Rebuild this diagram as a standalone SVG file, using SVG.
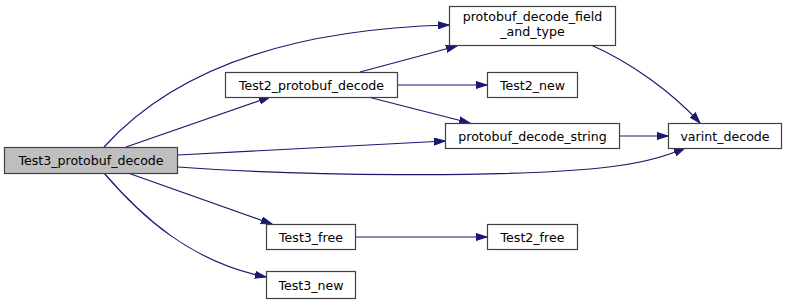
<svg xmlns="http://www.w3.org/2000/svg" width="788" height="306" viewBox="0 0 788 306">
  <style>
    .node rect { fill: #ffffff; stroke: #404040; stroke-width: 1.2; }
    .node.root rect { fill: #bfbfbf; }
    .node text { font-family: "DejaVu Sans", "Liberation Sans", sans-serif; font-size: 12.6px; fill: #000000; text-anchor: middle; }
    .edges path { fill: none; stroke: #191970; stroke-width: 1.2; marker-end: url(#arrow); }
  </style>
  <defs>
    <marker id="arrow" markerUnits="userSpaceOnUse" markerWidth="12" markerHeight="8" refX="11" refY="4" orient="auto">
      <path d="M0,0.5 L11,4 L0,7.5 z" fill="#191970" stroke="#191970" stroke-width="1"/>
    </marker>
  </defs>
  <rect width="788" height="306" fill="#ffffff"/>

  <!-- connectors -->
  <g id="edges" class="edges">
    <path d="M104,147 C160,85 260,30 449,25"/>
    <path d="M126,147 L270,97"/>
    <path d="M178,155 L445,141"/>
    <path d="M178,167 C300,176 500,178 600,168 C640,164 665,157 685,148"/>
    <path d="M128,173 L272,224"/>
    <path d="M104,173 C140,215 190,262 266,277"/>
    <path d="M360,72 L457,46"/>
    <path d="M397,85 L487,85"/>
    <path d="M368,97 L470,123"/>
    <path d="M591,45 C630,62 672,92 700,123"/>
    <path d="M620,136 L668,136"/>
    <path d="M356,237 L487,237"/>
  </g>

  <!-- nodes -->
  <g id="Test3_protobuf_decode" class="node root">
    <rect x="4.5" y="147.5" width="173" height="26"/>
    <text x="91" y="165">Test3_protobuf_decode</text>
  </g>
  <g id="Test2_protobuf_decode" class="node">
    <rect x="225.5" y="72.5" width="172" height="25"/>
    <text x="311.5" y="89.5">Test2_protobuf_decode</text>
  </g>
  <g id="protobuf_decode_field_and_type" class="node">
    <rect x="449.5" y="6.5" width="166" height="39"/>
    <text x="532.5" y="21">protobuf_decode_field</text>
    <text x="532.5" y="36">_and_type</text>
  </g>
  <g id="Test2_new" class="node">
    <rect x="487.5" y="72.5" width="90" height="25"/>
    <text x="532.5" y="89.5">Test2_new</text>
  </g>
  <g id="protobuf_decode_string" class="node">
    <rect x="445.5" y="123.5" width="174" height="25"/>
    <text x="532.5" y="140.5">protobuf_decode_string</text>
  </g>
  <g id="varint_decode" class="node">
    <rect x="668.5" y="123.5" width="113" height="25"/>
    <text x="725" y="140.5">varint_decode</text>
  </g>
  <g id="Test3_free" class="node">
    <rect x="266.5" y="224.5" width="89" height="25"/>
    <text x="311" y="241.5">Test3_free</text>
  </g>
  <g id="Test2_free" class="node">
    <rect x="487.5" y="224.5" width="90" height="25"/>
    <text x="532.5" y="241.5">Test2_free</text>
  </g>
  <g id="Test3_new" class="node">
    <rect x="266.5" y="271.5" width="89" height="27"/>
    <text x="311" y="289.5">Test3_new</text>
  </g>
</svg>
